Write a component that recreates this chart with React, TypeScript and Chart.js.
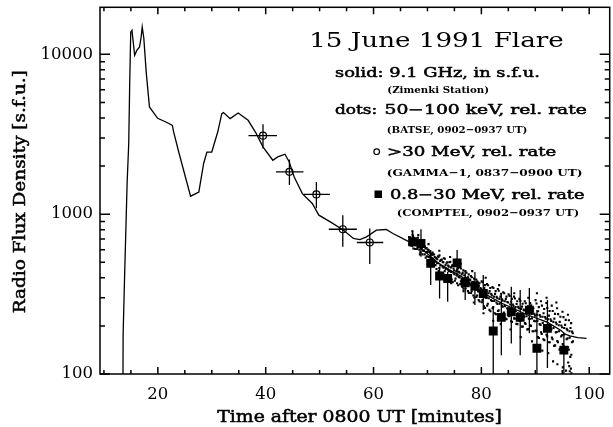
import React, { useEffect, useRef } from 'react';
import { Chart, registerables } from 'chart.js';

Chart.register(...registerables);

const X_MIN = 9.27;
const X_MAX = 103.8;
const Y_MIN = 100;
const Y_MAX = 19700;
const xTickValues = [20, 40, 60, 80, 100];
const yTickValues = [100, 1000, 10000];

// 9.1 GHz radio flux (s.f.u.)
const radioTime = [13.5, 13.56, 13.8, 14.05, 14.3, 14.6, 14.78, 14.97, 15.2, 15.7, 16.1, 16.6, 16.9, 17.1, 17.4, 17.84, 18.44, 19.96, 21.5, 22.7, 22.9, 23.93, 26.07, 27.6, 28.5, 29.1, 30.0, 31.1, 31.86, 32.17, 33.4, 34.9, 36.74, 38.26, 39.49, 41.32, 42.23, 43.57, 44.37, 45.29, 46.8, 48.64, 49.86, 51.98, 54.44, 56.27, 57.47, 58.7, 60.53, 62.36, 63.59, 66.62, 68.0, 70.0, 72.0, 74.0, 76.4, 79.4, 83.7, 88.6, 92.2, 94.7, 95.5, 96.4, 97.9, 99.5];
const radioFlux = [50, 178, 371, 761, 1562, 2778, 6590, 13760, 14125, 9860, 10590, 11120, 12830, 14830, 12590, 7740, 4690, 3981, 3775, 3597, 3300, 2405, 1296, 1377, 2084, 2448, 2448, 3266, 4256, 4325, 3963, 4295, 3868, 3191, 2636, 2175, 2281, 2371, 2123, 1709, 1345, 1166, 986, 895, 794, 705, 694, 721, 794, 802, 757, 671, 640, 565, 495, 450, 406, 335, 278, 234, 211, 188, 178, 173, 169, 167];

// GAMMA-1 >30 MeV
const gammaTime = [39.5, 44.4, 49.4, 54.3, 59.3];
const gammaTimeLow = [36.8, 41.9, 47.0, 51.7, 56.9];
const gammaTimeHigh = [42.1, 47.0, 51.9, 56.9, 61.8];
const gammaRate = [3100, 1840, 1330, 805, 665];
const gammaLow = [2580, 1520, 1090, 625, 487];
const gammaHigh = [3650, 2200, 1590, 986, 815];

// COMPTEL 0.8-30 MeV
const comptelTime = [67.25, 68.8, 70.6, 72.25, 73.75, 75.5, 77.0, 78.8, 80.35, 82.2, 83.7, 85.55, 87.2, 88.9, 90.3, 92.25, 95.3];
const comptelRate = [672, 656, 492, 410, 396, 496, 372, 355, 319, 186, 226, 245, 226, 251, 145, 193, 141];
const comptelLow = [620, 541, 360, 297, 283, 406, 290, 270, 251, 80, 131, 155, 131, 180, 80, 109, 80];
const comptelHigh = [790, 805, 596, 469, 436, 596, 447, 434, 416, 264, 321, 351, 335, 345, 251, 290, 180];

// BATSE 50-100 keV (time, relative rate)
const batsePoints: [number, number][] = [
  [66.6, 720], [66.8, 690], [67.0, 700], [67.15, 650], [67.3, 730], [67.45, 660], [67.6, 690], [67.75, 640], [67.9, 700],
  [68.05, 680], [68.2, 620], [68.35, 660], [68.5, 600], [68.65, 690], [68.8, 630], [68.95, 610],
  [69.05, 660], [69.2, 590], [69.35, 640], [69.5, 560], [69.65, 610], [69.8, 580], [69.95, 545],
  [70.05, 600], [70.2, 540], [70.35, 580], [70.5, 520], [70.65, 560], [70.8, 530], [70.95, 575],
  [71.05, 560], [71.2, 500], [71.35, 540], [71.5, 480], [71.65, 530], [71.8, 495], [71.95, 545],
  [72.05, 540], [72.2, 460], [72.35, 510], [72.5, 430], [72.65, 520], [72.8, 470], [72.95, 500],
  [73.05, 530], [73.2, 440], [73.35, 480], [73.5, 410], [73.65, 500], [73.8, 450], [73.95, 470],
  [74.05, 500], [74.2, 415], [74.35, 465], [74.5, 390], [74.65, 480], [74.8, 430], [74.95, 445],
  [75.05, 480], [75.2, 395], [75.35, 440], [75.5, 370], [75.65, 460], [75.8, 405], [75.95, 430],
  [76.05, 465], [76.2, 380], [76.35, 420], [76.5, 350], [76.65, 445], [76.8, 390], [76.95, 400],
  [77.05, 440], [77.2, 355], [77.35, 400], [77.5, 330], [77.65, 420], [77.8, 365], [77.95, 385],
  [78.05, 410], [78.2, 330], [78.35, 375], [78.5, 310], [78.65, 395], [78.8, 345], [78.95, 360],
  [79.05, 390], [79.2, 310], [79.35, 355], [79.5, 290], [79.65, 370], [79.8, 325], [79.95, 340],
  [80.05, 380], [80.2, 290], [80.35, 335], [80.5, 265], [80.65, 360], [80.8, 300], [80.95, 330],
  [81.05, 365], [81.2, 275], [81.35, 320], [81.5, 252], [81.65, 345], [81.8, 290], [81.95, 310],
  [82.05, 350], [82.2, 262], [82.35, 305], [82.5, 240], [82.65, 330], [82.8, 280], [82.95, 298],
  [83.05, 340], [83.2, 250], [83.35, 295], [83.5, 232], [83.65, 318], [83.8, 268], [83.95, 288],
  [84.05, 325], [84.2, 242], [84.35, 285], [84.5, 222], [84.65, 305], [84.8, 258], [84.95, 280],
  [85.05, 315], [85.2, 232], [85.35, 272], [85.5, 214], [85.65, 295], [85.8, 248], [85.95, 266],
  [86.05, 305], [86.2, 222], [86.35, 262], [86.5, 206], [86.65, 285], [86.8, 240], [86.95, 258],
  [87.05, 295], [87.2, 215], [87.35, 255], [87.5, 198], [87.65, 275], [87.8, 230], [87.95, 250],
  [88.05, 285], [88.2, 206], [88.35, 245], [88.5, 190], [88.65, 265], [88.8, 222], [88.95, 240],
  [89.05, 278], [89.2, 200], [89.35, 238], [89.5, 185], [89.65, 258], [89.8, 215], [89.95, 232],
  [90.05, 290], [90.2, 185], [90.35, 235], [90.5, 170], [90.65, 262], [90.8, 205], [90.95, 228],
  [91.05, 285], [91.2, 178], [91.35, 228], [91.5, 165], [91.65, 255], [91.8, 198], [91.95, 222],
  [92.05, 278], [92.2, 172], [92.35, 220], [92.5, 158], [92.65, 248], [92.8, 190], [92.95, 215],
  [93.05, 268], [93.2, 165], [93.35, 212], [93.5, 150], [93.65, 238], [93.8, 182], [93.95, 205],
  [94.05, 258], [94.2, 158], [94.35, 202], [94.5, 142], [94.65, 228], [94.8, 172], [94.95, 196],
  [95.05, 245], [95.2, 150], [95.35, 194], [95.5, 135], [95.65, 218], [95.8, 165], [95.95, 188],
  [96.05, 235], [96.2, 142], [96.35, 185], [96.5, 128], [96.65, 208], [96.8, 158], [96.95, 180],
  [93.3, 120], [94.1, 115], [95.1, 110], [95.7, 105], [96.1, 118], [96.3, 112], [96.4, 104], [96.6, 108], [96.7, 101],
  [92.4, 135], [91.3, 140], [89.4, 160], [87.3, 170], [85.4, 190], [83.6, 205], [82.2, 215], [80.4, 240],
  [78.6, 280], [76.7, 330], [74.4, 370], [72.7, 400], [70.7, 480], [68.6, 560], [67.4, 610], [66.8, 640],
  [90.3, 320], [92.1, 300], [93.9, 280], [88.7, 300], [86.1, 320], [83.3, 360], [80.8, 400], [78.3, 440],
  [76.2, 490], [74.2, 540], [72.2, 590], [70.2, 650], [68.3, 740], [67.2, 780],
  [66.68, 650], [66.83, 716], [66.98, 676],
  [67.08, 634], [67.23, 745], [67.38, 672], [67.53, 712], [67.68, 606], [67.83, 696], [67.98, 657],
  [68.08, 606], [68.23, 712], [68.38, 642], [68.53, 680], [68.68, 579], [68.83, 665], [68.98, 628],
  [69.08, 560], [69.23, 658], [69.38, 593], [69.53, 628], [69.68, 535], [69.83, 614], [69.98, 580],
  [70.08, 508], [70.23, 597], [70.38, 538], [70.53, 571], [70.68, 486], [70.83, 558], [70.98, 526],
  [71.08, 476], [71.23, 559], [71.38, 504], [71.53, 534], [71.68, 454], [71.83, 522], [71.98, 493],
  [72.08, 440], [72.23, 552], [72.38, 477], [72.53, 517], [72.68, 413], [72.83, 501], [72.98, 462],
  [73.08, 419], [73.23, 526], [73.38, 455], [73.53, 493], [73.68, 393], [73.83, 477], [73.98, 440],
  [74.08, 401], [74.23, 503], [74.38, 435], [74.53, 472], [74.68, 376], [74.83, 457], [74.98, 421],
  [75.08, 383], [75.23, 480], [75.38, 415], [75.53, 450], [75.68, 359], [75.83, 436], [75.98, 402],
  [76.08, 365], [76.23, 457], [76.38, 396], [76.53, 429], [76.68, 342], [76.83, 415], [76.98, 383],
  [77.08, 343], [77.23, 430], [77.38, 372], [77.53, 403], [77.68, 322], [77.83, 390], [77.98, 360],
  [78.08, 321], [78.23, 403], [78.38, 348], [78.53, 378], [78.68, 301], [78.83, 366], [78.98, 337],
  [79.08, 303], [79.23, 380], [79.38, 329], [79.53, 356], [79.68, 284], [79.83, 345], [79.98, 318],
  [80.08, 281], [80.23, 375], [80.38, 312], [80.53, 345], [80.68, 259], [80.83, 331], [80.98, 299],
  [81.08, 268], [81.23, 359], [81.38, 298], [81.53, 330], [81.68, 247], [81.83, 317], [81.98, 286],
  [82.08, 258], [82.23, 345], [82.38, 286], [82.53, 317], [82.68, 237], [82.83, 304], [82.98, 274],
  [83.08, 248], [83.23, 332], [83.38, 275], [83.53, 305], [83.68, 228], [83.83, 293], [83.98, 264],
  [84.08, 239], [84.23, 320], [84.38, 266], [84.53, 294], [84.68, 220], [84.83, 282], [84.98, 255],
  [85.08, 230], [85.23, 308], [85.38, 256], [85.53, 283], [85.68, 212], [85.83, 272], [85.98, 245],
  [86.08, 223], [86.23, 297], [86.38, 247], [86.53, 274], [86.68, 205], [86.83, 263], [86.98, 237],
  [87.08, 215], [87.23, 287], [87.38, 238], [87.53, 264], [87.68, 198], [87.83, 253], [87.98, 228],
  [88.08, 208], [88.23, 277], [88.38, 230], [88.53, 255], [88.68, 191], [88.83, 245], [88.98, 221],
  [89.08, 201], [89.23, 269], [89.38, 223], [89.53, 248], [89.68, 185], [89.83, 238], [89.98, 214],
  [90.08, 187], [90.23, 276], [90.38, 215], [90.53, 247], [90.68, 168], [90.83, 234], [90.98, 203],
  [91.08, 182], [91.23, 268], [91.38, 209], [91.53, 240], [91.68, 163], [91.83, 227], [91.98, 198],
  [92.08, 176], [92.23, 259], [92.38, 202], [92.53, 232], [92.68, 158], [92.83, 220], [92.98, 191],
  [93.08, 169], [93.23, 248], [93.38, 194], [93.53, 222], [93.68, 151], [93.83, 210], [93.98, 183],
  [94.08, 161], [94.23, 237], [94.38, 185], [94.53, 212], [94.68, 144], [94.83, 201], [94.98, 175],
  [95.08, 154], [95.23, 227], [95.38, 177], [95.53, 203], [95.68, 138], [95.83, 192], [95.98, 167],
  [96.08, 147], [96.23, 217], [96.38, 169], [96.53, 194], [96.68, 132], [96.83, 184], [96.98, 160],
];

const FONT = '"DejaVu Serif"';

function drawFitted(ctx: CanvasRenderingContext2D, text: string, x: number, y: number, width: number, font: string, angle = 0, stroke = 0) {
  ctx.save();
  ctx.font = font;
  ctx.textAlign = 'left';
  ctx.textBaseline = 'alphabetic';
  const m = ctx.measureText(text);
  const vis = m.actualBoundingBoxLeft + m.actualBoundingBoxRight;
  const s = width / vis;
  ctx.translate(x, y);
  if (angle) ctx.rotate(angle);
  ctx.scale(s, 1);
  ctx.fillStyle = '#000';
  ctx.fillText(text, m.actualBoundingBoxLeft, 0);
  if (stroke > 0) {
    ctx.strokeStyle = '#000';
    ctx.lineWidth = stroke;
    ctx.strokeText(text, m.actualBoundingBoxLeft, 0);
  }
  ctx.restore();
}

const errorBarPlugin = {
  id: 'errorBars',
  beforeDatasetsDraw(chart: any) {
    const { ctx, chartArea: a, scales } = chart;
    const x = scales.x;
    const y = scales.y;
    ctx.save();
    ctx.beginPath();
    ctx.rect(a.left, a.top, a.right - a.left, a.bottom - a.top);
    ctx.clip();
    ctx.strokeStyle = '#000';
    ctx.lineWidth = 1.3;
    ctx.beginPath();
    gammaTime.forEach((t, i) => {
      const px = x.getPixelForValue(t);
      const py = y.getPixelForValue(gammaRate[i]);
      ctx.moveTo(x.getPixelForValue(gammaTimeLow[i]), py);
      ctx.lineTo(x.getPixelForValue(gammaTimeHigh[i]), py);
      ctx.moveTo(px, y.getPixelForValue(gammaLow[i]));
      ctx.lineTo(px, y.getPixelForValue(gammaHigh[i]));
    });
    comptelTime.forEach((t, i) => {
      const px = x.getPixelForValue(t);
      ctx.moveTo(px, y.getPixelForValue(comptelLow[i]));
      ctx.lineTo(px, y.getPixelForValue(comptelHigh[i]));
    });
    ctx.stroke();
    ctx.restore();
  },
};

const framePlugin = {
  id: 'frame',
  afterDatasetsDraw(chart: any) {
    const { ctx, chartArea: a, scales } = chart;
    const x = scales.x;
    const y = scales.y;
    ctx.save();
    ctx.strokeStyle = '#000';
    ctx.lineWidth = 1.5;
    ctx.strokeRect(a.left, a.top, a.right - a.left, a.bottom - a.top);
    ctx.beginPath();
    for (let v = Math.ceil(x.min / 5) * 5; v <= x.max; v += 5) {
      const px = x.getPixelForValue(v);
      const len = v % 20 === 0 ? 7 : 4;
      ctx.moveTo(px, a.bottom);
      ctx.lineTo(px, a.bottom - len);
      ctx.moveTo(px, a.top);
      ctx.lineTo(px, a.top + len);
    }
    for (let d = 100; d <= 10000; d *= 10) {
      for (let k = 1; k <= 9; k++) {
        const v = d * k;
        if (v < y.min || v > y.max) continue;
        const py = y.getPixelForValue(v);
        const len = k === 1 ? 10 : 5;
        ctx.moveTo(a.left, py);
        ctx.lineTo(a.left + len, py);
        ctx.moveTo(a.right, py);
        ctx.lineTo(a.right - len, py);
      }
    }
    ctx.stroke();
    ctx.restore();
  },
};

const textPlugin = {
  id: 'texts',
  afterDraw(chart: any) {
    const ctx: CanvasRenderingContext2D = chart.ctx;
    const bold = (s: number) => `bold ${s}px ${FONT}`;
    const norm = (s: number) => `${s}px ${FONT}`;
    drawFitted(ctx, 'Time after 0800 UT [minutes]', 217.3, 421.7, 283, norm(16), 0, 0.5);
    drawFitted(ctx, 'Radio Flux Density [s.f.u.]', 25, 313.3, 241.6, norm(16), -Math.PI / 2, 0.5);
    drawFitted(ctx, '15 June 1991 Flare', 311.7, 46.7, 251.6, norm(21));
    drawFitted(ctx, 'solid: 9.1 GHz, in s.f.u.', 335, 77.3, 203.3, norm(13), 0, 0.5);
    drawFitted(ctx, '(Zimenki Station)', 387.3, 93.3, 101, bold(10));
    drawFitted(ctx, 'dots:', 335, 114, 41.7, norm(13), 0, 0.5);
    drawFitted(ctx, '50\u2212100 keV, rel. rate', 386, 114, 201.3, norm(13), 0, 0.5);
    drawFitted(ctx, '(BATSE, 0902\u22120937 UT)', 386.7, 132.7, 140, bold(10));
    drawFitted(ctx, '>30 MeV, rel. rate', 388.3, 156, 168.4, norm(13), 0, 0.5);
    drawFitted(ctx, '(GAMMA\u22121, 0837\u22120900 UT)', 386.7, 176, 195, bold(10));
    drawFitted(ctx, '0.8\u221230 MeV, rel. rate', 390, 199.3, 195, norm(13), 0, 0.5);
    drawFitted(ctx, '(COMPTEL, 0902\u22120937 UT)', 396.7, 216, 181.6, bold(10));
    ctx.save();
    ctx.strokeStyle = '#000';
    ctx.lineWidth = 1.2;
    ctx.beginPath();
    ctx.arc(376.7, 151.7, 2.8, 0, Math.PI * 2);
    ctx.stroke();
    ctx.fillStyle = '#000';
    ctx.fillRect(374.5, 190.5, 7.5, 7.5);
    ctx.restore();
  },
};

export default function App() {
  const ref = useRef<HTMLCanvasElement>(null);
  useEffect(() => {
    const canvas = ref.current!;
    const chart = new Chart(canvas, {
      type: 'scatter',
      data: {
        datasets: [
          {
            label: 'COMPTEL',
            data: comptelTime.map((t, i) => ({ x: t, y: comptelRate[i] })),
            pointStyle: 'rect',
            pointRadius: 6.3,
            pointBackgroundColor: '#000',
            pointBorderColor: '#000',
            pointBorderWidth: 0,
          },
          {
            label: 'GAMMA-1',
            data: gammaTime.map((t, i) => ({ x: t, y: gammaRate[i] })),
            pointStyle: 'circle',
            pointRadius: 3.5,
            pointBackgroundColor: 'rgba(0,0,0,0)',
            pointBorderColor: '#000',
            pointBorderWidth: 1.2,
          },
          {
            label: '9.1 GHz',
            type: 'line',
            data: radioTime.map((t, i) => ({ x: t, y: radioFlux[i] })),
            borderColor: '#000',
            borderWidth: 1.3,
            pointRadius: 0,
            fill: false,
            tension: 0,
          } as any,
          {
            label: 'BATSE',
            data: batsePoints.map(([t, v]) => ({ x: t, y: v })),
            pointStyle: 'rect',
            pointRadius: 1.5,
            pointBackgroundColor: '#000',
            pointBorderWidth: 0,
          },
        ],
      },
      options: {
        responsive: false,
        animation: false,
        devicePixelRatio: 1,
        events: [],
        layout: { padding: { top: 7.3, right: 1, left: 0, bottom: 0 } },
        plugins: { legend: { display: false }, tooltip: { enabled: false } },
        scales: {
          x: {
            type: 'linear',
            min: X_MIN,
            max: X_MAX,
            grid: { display: false, drawTicks: false },
            border: { display: false },
            afterBuildTicks: (s: any) => {
              s.ticks = xTickValues.map((v) => ({ value: v }));
            },
            afterFit: (s: any) => {
              s.height = 53;
              s.paddingLeft = 0;
              s.paddingRight = 0;
            },
            ticks: {
              color: '#000',
              font: { family: 'DejaVu Serif', size: 16.5 },
              padding: 11,
              maxRotation: 0,
              autoSkip: false,
              callback: (v: any) => String(v),
            },
          },
          y: {
            type: 'logarithmic',
            min: Y_MIN,
            max: Y_MAX,
            grid: { display: false, drawTicks: false },
            border: { display: false },
            afterBuildTicks: (s: any) => {
              s.ticks = yTickValues.map((v) => ({ value: v }));
            },
            afterFit: (s: any) => {
              s.width = 100;
              s.paddingTop = 0;
              s.paddingBottom = 0;
            },
            ticks: {
              color: '#000',
              font: { family: 'DejaVu Serif', size: 16.5 },
              padding: 7,
              autoSkip: false,
              callback: (v: any) => String(v),
            },
          },
        },
      },
      plugins: [errorBarPlugin, framePlugin, textPlugin],
    });
    return () => chart.destroy();
  }, []);
  return (
    <div style={{ position: 'absolute', left: 0, top: 0, width: 613, height: 427, overflow: 'hidden', background: '#fff' }}>
      <canvas ref={ref} width={616} height={427} style={{ display: 'block', width: 616, height: 427 }} />
    </div>
  );
}
